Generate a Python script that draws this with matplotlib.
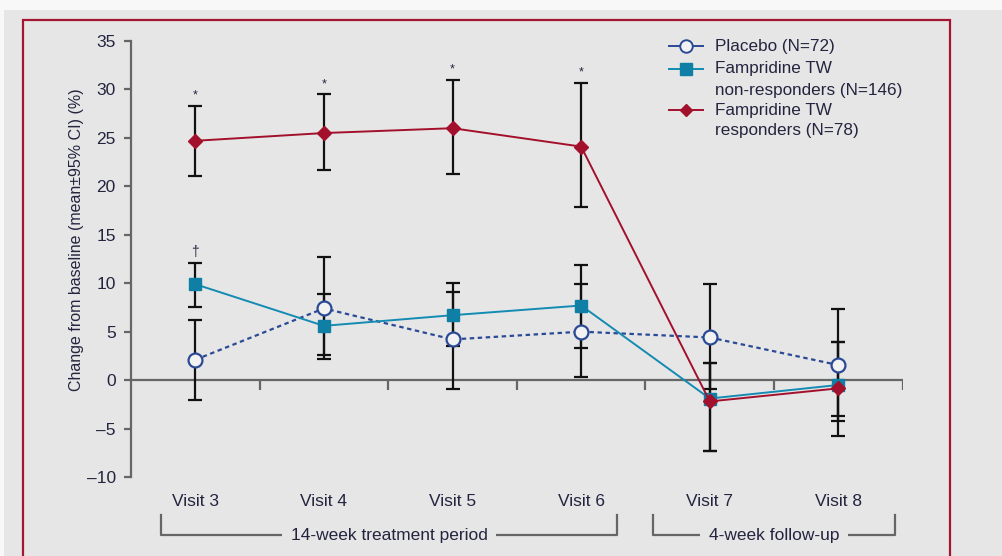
import matplotlib.pyplot as plt
from matplotlib.lines import Line2D
from matplotlib.patches import Rectangle
import numpy as np

visits = ['Visit 3', 'Visit 4', 'Visit 5', 'Visit 6', 'Visit 7', 'Visit 8']

placebo_mean = [2.1, 7.4, 4.2, 5.0, 4.4, 1.55]
placebo_lo = [-2.1, 2.2, -0.9, 0.3, -0.9, -4.2]
placebo_hi = [6.2, 12.7, 9.1, 9.9, 9.9, 7.3]

nonresp_mean = [9.9, 5.6, 6.7, 7.7, -1.9, -0.5]
nonresp_lo = [7.5, 2.6, 3.5, 3.3, -7.3, -3.7]
nonresp_hi = [12.1, 8.9, 10.0, 11.9, 1.8, 3.9]

resp_mean = [24.7, 25.5, 26.0, 24.1, -2.2, -0.85]
resp_lo = [21.1, 21.7, 21.3, 17.9, -7.3, -5.8]
resp_hi = [28.3, 29.5, 31.0, 30.7, 1.8, 3.9]

star_visits = [0, 1, 2, 3]      # * responders vs placebo
dagger_visits = [0]             # † non-responders vs placebo

labels = ['Placebo (N=72)', 'Fampridine TW\nnon-responders (N=146)', 'Fampridine TW\nresponders (N=78)']
periods = ['14-week treatment period', '4-week follow-up']

BG = '#e6e6e6'
TXT = '#24243f'
AX = '#666666'
C_PLA = '#2b4a96'
C_NON = '#138bb2'
C_RES = '#a3102c'
plt.rcParams['font.family'] = ['Liberation Sans', 'DejaVu Sans']

W, H = 1003, 556
fig = plt.figure(figsize=(W / 100, H / 100), dpi=100, facecolor=BG)

def px(x, y):
    return x / W, 1 - y / H

# top white strip and the red frame
fig.patches.append(Rectangle((0, 1 - 10 / H), 1, 10 / H, transform=fig.transFigure,
                             facecolor='#f8f8f8', edgecolor='none', zorder=0))
fig.patches.append(Rectangle((0, 0), 4 / W, 1, transform=fig.transFigure,
                             facecolor='#f8f8f8', edgecolor='none', zorder=0))
fig.patches.append(Rectangle((22.7 / W, -0.05), (950 - 22.7) / W, (H - 20) / H + 0.05,
                             transform=fig.transFigure, fill=False,
                             edgecolor='#a31530', lw=1.6, zorder=1))

ax = fig.add_axes([131 / W, 79 / H, 771.7 / W, 436 / H])
ax.patch.set_visible(False)
ax.set_xlim(-0.5, 5.5)
ax.set_ylim(-10, 35)
x = np.arange(len(visits))

for s in ['top', 'right', 'bottom']:
    ax.spines[s].set_visible(False)
ax.spines['left'].set_color(AX)
ax.spines['left'].set_linewidth(1.6)

yt = list(range(-10, 40, 5))
ax.set_yticks(yt)
ax.set_yticklabels([str(v).replace('-', '\u2013') for v in yt])
ax.tick_params(axis='y', direction='out', length=5, width=1.6, color=AX,
               labelsize=12.5, labelcolor=TXT, pad=6)
ax.set_xticks(x)
ax.set_xticklabels(visits)
ax.tick_params(axis='x', length=0, labelsize=12.5, labelcolor=TXT, pad=12)

ax.axhline(0, color=AX, lw=1.6, zorder=1)
ax.vlines(np.arange(0.5, 6, 1), -1.05, 0, color=AX, lw=1.6, zorder=1)

ax.set_ylabel('Change from baseline (mean\u00b195% CI) (%)', fontsize=11.5, color=TXT)
ax.yaxis.set_label_coords(-0.061, 0.5436)

# error bars
for m, lo, hi in [(placebo_mean, placebo_lo, placebo_hi),
                  (nonresp_mean, nonresp_lo, nonresp_hi),
                  (resp_mean, resp_lo, resp_hi)]:
    m = np.array(m)
    err = [m - np.array(lo), np.array(hi) - m]
    ax.errorbar(x, m, yerr=err, fmt='none', ecolor='#111111', elinewidth=1.6,
                capsize=5, capthick=1.6, zorder=2)

ax.plot(x, placebo_mean, color=C_PLA, lw=1.6, ls=(0, (2, 1.6)), marker='o', ms=10,
        mfc='#f2f2f2', mec=C_PLA, mew=1.6, zorder=4)
ax.plot(x, nonresp_mean, color=C_NON, lw=1.4, marker='s', ms=9, mfc='#0f7fa6',
        mec='#0f7fa6', zorder=5)
ax.plot(x, resp_mean, color=C_RES, lw=1.4, marker='D', ms=7, mfc=C_RES, mec=C_RES, zorder=6)

for i in star_visits:
    ax.annotate('*', (x[i], resp_hi[i]), xytext=(0, 3), textcoords='offset points',
                ha='center', va='bottom', fontsize=9, color=TXT)
for i in dagger_visits:
    ax.annotate('\u2020', (x[i], nonresp_hi[i]), xytext=(0, 3), textcoords='offset points',
                ha='center', va='bottom', fontsize=10, color=TXT)

# period brackets below the visit labels
for (x0, x1), name in zip([(-0.264, 3.28), (3.56, 5.44)], periods):
    ax.plot([x0, x0, x1, x1], [-13.9, -16.0, -16.0, -13.9], color=AX, lw=1.6,
            clip_on=False, zorder=1)
    ax.text((x0 + x1) / 2, -16.0, name, ha='center', va='center', fontsize=12.5, color=TXT,
            bbox=dict(boxstyle='square,pad=0.5', facecolor=BG, edgecolor='none'),
            clip_on=False, zorder=3)

# legend drawn by hand so the handle sits on the first text line
styles = [dict(color=C_PLA, lw=1.4, marker='o', ms=9, mfc='#f2f2f2', mec=C_PLA, mew=1.4),
          dict(color=C_NON, lw=1.4, marker='s', ms=9, mfc='#0f7fa6', mec='#0f7fa6'),
          dict(color=C_RES, lw=1.4, marker='D', ms=6, mfc=C_RES, mec=C_RES)]
rows = [46, 69, 110]
for yrow, st, lab in zip(rows, styles, labels):
    (xa, ya), (xb, _) = px(669, yrow), px(703, yrow)
    fig.add_artist(Line2D([xa, (xa + xb) / 2, xb], [ya] * 3, transform=fig.transFigure,
                          markevery=[1], **st))
    for k, line in enumerate(lab.split('\n')):
        tx, ty = px(715, yrow + 21 * k)
        fig.text(tx, ty, line, ha='left', va='center', fontsize=12.3, color=TXT)

fig.savefig('out.png', dpi=100, facecolor=BG)
